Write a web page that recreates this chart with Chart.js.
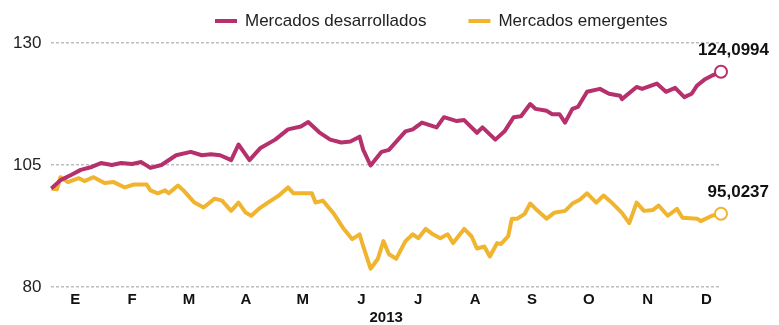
<!DOCTYPE html>
<html>
<head>
<meta charset="utf-8">
<script src="https://cdn.jsdelivr.net/npm/chart.js@4"></script>
<style>
  html, body { margin: 0; padding: 0; background: #fff; }
  #wrap { width: 779px; height: 325px; position: relative; }
</style>
</head>
<body>
<div id="wrap"><canvas id="grafico"></canvas></div>
<script>
// meses (posición en días del año) y etiquetas del eje X
const mesesEtiquetas = ["E", "F", "M", "A", "M", "J", "J", "A", "S", "O", "N", "D"];
const mesesDias = [13, 44, 75, 106, 137, 169, 200, 231, 262, 293, 325, 357];
const ticksY = [80, 105, 130];
const anio = "2013";

const desarrolladosDias = [0, 5, 11, 16, 22, 27, 33, 38, 44, 49, 54, 60, 68, 76, 82, 87, 92, 98, 102, 108,
  114, 122, 129, 136, 140, 146, 152, 158, 163, 168, 170, 174, 180, 184, 193, 197, 202, 210, 214, 221,
  225, 232, 235, 242, 247, 252, 256, 261, 264, 270, 273, 277, 280, 284, 287, 292, 299, 304, 310, 311,
  319, 322, 330, 335, 340, 345, 349, 352, 356, 360, 365];
const desarrolladosValores = [100.2, 101.9, 103, 104, 104.6, 105.4, 105.0, 105.4, 105.2, 105.6,
  104.4, 105.0, 107.0, 107.7, 107.0, 107.2, 107.0, 106.0, 109.2, 106.0,
  108.5, 110.2, 112.3, 112.9, 113.8, 111.7, 110.2, 109.6, 109.8, 110.8,
  108.1, 104.9, 107.7, 108.1, 111.9, 112.3, 113.7, 112.7, 114.8, 114.0,
  114.2, 111.6, 112.7, 110.2, 111.9, 114.8, 115.0, 117.5, 116.5, 116.1,
  115.4, 115.4, 113.7, 116.5, 116.9, 120.0, 120.6, 119.6, 119.2, 118.5,
  121.0, 120.6, 121.7, 120.0, 120.8, 118.9, 119.6, 121.3, 122.5, 123.3, 124.0994];

const emergentesDias = [0, 3, 5, 9, 15, 18, 23, 29, 34, 40, 45, 52, 54, 58, 62, 64, 69, 72, 78, 83,
  89, 93, 98, 102, 106, 109, 113, 118, 124, 129, 132, 142, 144, 148, 154, 159, 164, 168, 170, 174,
  178, 181, 184, 188, 193, 197, 200, 204, 208, 212, 216, 219, 225, 229, 232, 236, 239, 243, 245, 249,
  251, 254, 258, 261, 264, 270, 274, 280, 284, 288, 292, 297, 301, 306, 311, 315, 319, 323, 328, 331,
  336, 341, 344, 352, 354, 360, 365];
const emergentesValores = [100.2, 100.0, 102.5, 101.5, 102.3, 101.7, 102.5, 101.3, 101.5, 100.4,
  101.0, 101.0, 99.8, 99.2, 99.8, 99.2, 100.8, 99.8, 97.3, 96.3,
  98.1, 97.7, 95.6, 97.3, 95.2, 94.6, 96.0, 97.3, 98.75, 100.4,
  99.2, 99.2, 97.3, 97.7, 95.0, 92.1, 89.8, 90.8, 88.3, 83.75,
  85.8, 89.4, 86.7, 85.8, 89.4, 90.8, 90.0, 91.9, 90.8, 90.0,
  90.8, 89.0, 91.9, 90.4, 87.9, 88.3, 86.25, 89.0, 88.8, 90.4,
  94.0, 94.0, 95.0, 97.1, 96.0, 94.0, 95.2, 95.6, 97.1, 97.9,
  99.2, 97.3, 98.75, 97.1, 95.2, 93.1, 97.3, 95.6, 95.8, 96.7,
  94.6, 96.0, 94.2, 94.0, 93.5, 94.6, 95.0237];

const FUENTE = '"Liberation Sans", Arial, sans-serif';

function puntos(dias, valores) {
  return dias.map((d, i) => ({ x: d, y: valores[i] }));
}

function serie(label, color, data) {
  return {
    label: label,
    data: data,
    borderColor: color,
    backgroundColor: color,
    borderWidth: 4,
    borderJoinStyle: 'round',
    tension: 0,
    fill: false,
    clip: false,
    pointRadius: c => c.dataIndex === data.length - 1 ? 6 : 0,
    pointHoverRadius: 0,
    pointBackgroundColor: '#fff',
    pointBorderColor: color,
    pointBorderWidth: 2
  };
}

// leyenda y valores finales dibujados sobre el canvas
const etiquetasPlugin = {
  id: 'etiquetas',
  afterDatasetsDraw(chart) {
    const ctx = chart.ctx;
    ctx.save();
    ctx.font = '17px ' + FUENTE;
    ctx.textBaseline = 'middle';
    ctx.textAlign = 'left';
    let x = 215;
    chart.data.datasets.forEach(ds => {
      ctx.fillStyle = ds.borderColor;
      ctx.fillRect(x, 19, 22, 4);
      x += 30;
      ctx.fillStyle = '#222';
      ctx.fillText(ds.label, x, 21);
      x += ctx.measureText(ds.label).width + 42;
    });

    ctx.font = 'bold 17px ' + FUENTE;
    ctx.textAlign = 'right';
    ctx.fillStyle = '#111';
    chart.data.datasets.forEach((ds, i) => {
      const meta = chart.getDatasetMeta(i);
      const p = meta.data[meta.data.length - 1];
      const v = ds.data[ds.data.length - 1].y;
      ctx.fillText(v.toFixed(4).replace('.', ','), chart.width - 10, p.y - 21);
    });
    ctx.restore();
  }
};

new Chart(document.getElementById('grafico'), {
  type: 'line',
  data: {
    datasets: [
      serie('Mercados desarrollados', '#b5306c', puntos(desarrolladosDias, desarrolladosValores)),
      serie('Mercados emergentes', '#f0b42e', puntos(emergentesDias, emergentesValores))
    ]
  },
  options: {
    responsive: true,
    maintainAspectRatio: false,
    animation: false,
    layout: { padding: { top: 43, right: 58, bottom: 0, left: 3 } },
    plugins: {
      legend: { display: false },
      tooltip: { enabled: false }
    },
    scales: {
      x: {
        type: 'linear',
        min: 0,
        max: 365,
        grid: { display: false, drawTicks: false },
        border: { display: false },
        afterBuildTicks: s => { s.ticks = mesesDias.map(v => ({ value: v })); },
        ticks: {
          autoSkip: false,
          maxRotation: 0,
          padding: 5,
          color: '#111',
          font: { family: FUENTE, size: 15, weight: 'bold', lineHeight: 1 },
          callback: (v, i) => mesesEtiquetas[i]
        },
        title: {
          display: true,
          text: anio,
          color: '#111',
          padding: { top: -2, bottom: 0 },
          font: { family: FUENTE, size: 15, weight: 'bold', lineHeight: 1 }
        }
      },
      y: {
        min: 80,
        max: 130,
        afterBuildTicks: s => { s.ticks = ticksY.map(v => ({ value: v })); },
        grid: { color: '#bdbdbd', lineWidth: 1.5, drawTicks: false },
        border: { display: false, dash: [3, 2] },
        ticks: {
          padding: 10,
          color: '#222',
          font: { family: FUENTE, size: 17 }
        }
      }
    }
  },
  plugins: [etiquetasPlugin]
});
</script>
</body>
</html>
